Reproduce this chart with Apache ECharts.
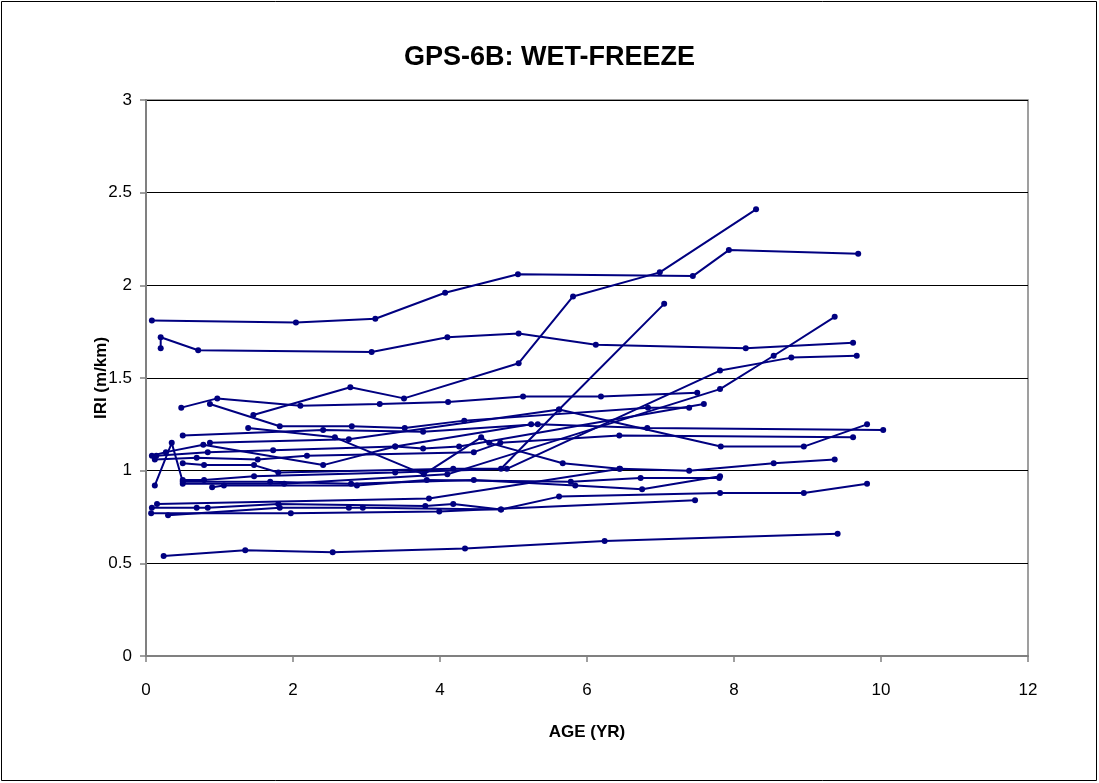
<!DOCTYPE html>
<html>
<head>
<meta charset="utf-8">
<script src="https://cdn.jsdelivr.net/npm/echarts@6/dist/echarts.min.js"></script>
<style>
html,body{margin:0;padding:0;background:#fff;}
#chart{width:1099px;height:783px;}
</style>
</head>
<body>
<div id="chart"></div>
<script>
// Tick labels
const xTicks = [0, 2, 4, 6, 8, 10, 12];
const yTicks = [0, 0.5, 1, 1.5, 2, 2.5, 3];

// Each section: [AGE (YR), IRI (m/km)]
const s01 = [[0.08,1.81],[2.04,1.80],[3.12,1.82],[4.07,1.96],[5.06,2.06],[7.44,2.05],[7.93,2.19],[9.69,2.17]];
const s02 = [[1.46,1.30],[2.78,1.45],[3.51,1.39],[5.07,1.58],[5.81,1.94],[6.99,2.07],[8.30,2.41]];
const s03 = [[0.20,1.66],[0.20,1.72],[0.71,1.65],[3.07,1.64],[4.10,1.72],[5.07,1.74],[6.12,1.68],[8.16,1.66],[9.62,1.69]];
const s04 = [[0.48,1.34],[0.97,1.39],[2.10,1.35],[3.18,1.36],[4.11,1.37],[5.13,1.40],[6.19,1.40],[7.50,1.42]];
const s05 = [[0.87,1.36],[1.82,1.24],[2.80,1.24],[3.52,1.23],[4.33,1.27],[6.83,1.34],[7.39,1.34]];
const s06 = [[0.50,1.19],[2.41,1.22],[3.77,1.21],[5.33,1.25],[6.82,1.23],[10.03,1.22]];
const s07 = [[1.39,1.23],[2.57,1.18],[3.78,0.98],[4.56,1.18],[4.67,1.15],[5.67,1.04],[6.44,1.01]];
const s08 = [[0.12,0.92],[0.35,1.15],[0.50,0.94],[1.69,0.94],[2.79,0.93],[4.46,0.95],[5.84,0.92],[6.75,0.90],[7.81,0.97]];
const s09 = [[0.90,0.91],[1.06,0.92],[2.87,0.92],[3.82,0.95],[5.78,0.94],[6.73,0.96],[7.80,0.96]];
const s10 = [[0.50,1.04],[0.79,1.03],[1.47,1.03],[1.80,0.99],[4.18,1.01],[4.83,1.01],[5.62,1.33],[7.05,1.90]];
const s11 = [[0.50,0.95],[0.79,0.95],[1.47,0.97],[3.39,0.99],[4.91,1.01],[7.81,1.54],[8.78,1.61],[9.67,1.62]];
const s12 = [[0.12,1.06],[0.69,1.07],[1.52,1.06],[2.19,1.08],[4.46,1.10],[4.82,1.15],[6.44,1.19],[9.62,1.18]];
const s13 = [[0.87,1.15],[2.76,1.17],[5.62,1.33],[7.82,1.13],[8.95,1.13],[9.81,1.25]];
const s14 = [[0.50,0.93],[1.88,0.93],[4.10,0.98],[7.81,1.44],[8.54,1.62],[9.37,1.83]];
const s15 = [[0.14,1.08],[0.84,1.10],[1.73,1.11],[3.39,1.13],[3.77,1.12],[4.26,1.13],[7.59,1.36]];
const s16 = [[0.08,1.08],[0.27,1.10],[0.78,1.14],[2.41,1.03],[3.39,1.13],[5.24,1.25]];
const s17 = [[0.07,0.77],[1.97,0.77],[3.99,0.78],[7.47,0.84]];
const s18 = [[0.30,0.76],[1.82,0.80],[2.76,0.80],[2.95,0.80],[4.83,0.79],[5.62,0.86],[7.81,0.88],[8.95,0.88],[9.81,0.93]];
const s19 = [[0.08,0.80],[0.69,0.80],[0.84,0.80],[1.80,0.82],[3.80,0.81],[4.18,0.82],[4.83,0.79]];
const s20 = [[0.15,0.82],[3.85,0.85],[6.45,1.01],[7.39,1.00],[8.54,1.04],[9.37,1.06]];
const s21 = [[0.24,0.54],[1.35,0.57],[2.54,0.56],[4.34,0.58],[6.24,0.62],[9.41,0.66]];

const sections = [s01,s02,s03,s04,s05,s06,s07,s08,s09,s10,s11,s12,s13,s14,s15,s16,s17,s18,s19,s20,s21];

const FONT = '"Liberation Sans", Arial, sans-serif';
const chart = echarts.init(document.getElementById('chart'), null, {renderer: 'canvas'});

chart.setOption({
  animation: false,
  backgroundColor: '#ffffff',
  title: {
    text: 'GPS-6B: WET-FREEZE',
    left: 'center',
    top: 39,
    textStyle: {fontFamily: FONT, fontSize: 27, fontWeight: 'bold', color: '#000'}
  },
  graphic: [{
    type: 'rect',
    shape: {x: 1.5, y: 1.5, width: 1095, height: 779},
    style: {fill: 'none', stroke: '#000', lineWidth: 1},
    silent: true
  }],
  grid: {
    left: 146, right: 71, top: 100, bottom: 127,
    show: true, borderColor: '#808080', borderWidth: 1.5, backgroundColor: 'transparent'
  },
  xAxis: {
    type: 'value', min: xTicks[0], max: xTicks[xTicks.length-1], interval: 2,
    name: 'AGE (YR)', nameLocation: 'middle', nameGap: 68, nameMoveOverlap: false,
    nameTextStyle: {fontFamily: FONT, fontSize: 17, fontWeight: 'bold', color: '#000'},
    axisLine: {show: true, lineStyle: {color: '#808080', width: 2}},
    axisTick: {show: true, inside: false, length: 6, lineStyle: {color: '#808080', width: 1.5}},
    axisLabel: {fontFamily: FONT, fontSize: 17, color: '#000', margin: 26},
    splitLine: {show: false}
  },
  yAxis: {
    type: 'value', min: yTicks[0], max: yTicks[yTicks.length-1], interval: 0.5,
    name: 'IRI (m/km)', nameLocation: 'middle', nameGap: 36, nameRotate: 90, nameMoveOverlap: false,
    nameTextStyle: {fontFamily: FONT, fontSize: 17, fontWeight: 'bold', color: '#000'},
    axisLine: {show: true, lineStyle: {color: '#808080', width: 2}},
    axisTick: {show: true, inside: false, length: 6, lineStyle: {color: '#808080', width: 1.5}},
    axisLabel: {fontFamily: FONT, fontSize: 17, color: '#000', margin: 14},
    splitLine: {show: true, lineStyle: {color: '#000', width: 1}}
  },
  series: sections.map((d, i) => ({
    name: 'S' + (i+1),
    type: 'line',
    data: d,
    symbol: 'circle',
    symbolSize: 6,
    itemStyle: {color: '#000080'},
    lineStyle: {color: '#000080', width: 2},
    z: 3
  }))
});
</script>
</body>
</html>
